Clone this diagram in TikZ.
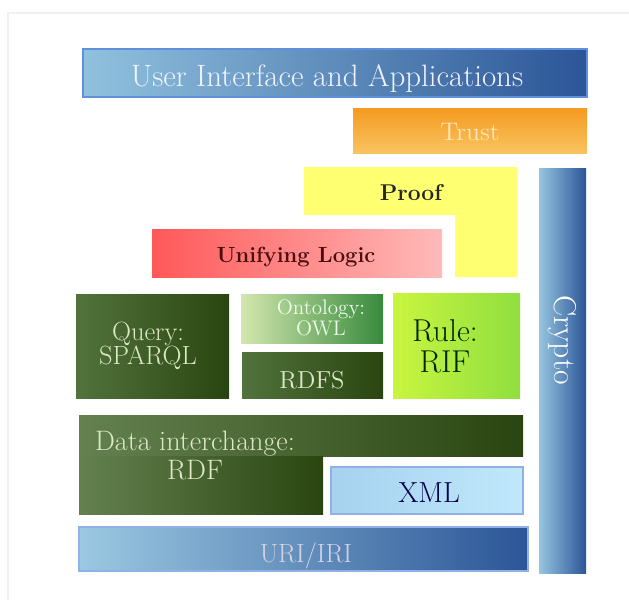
\documentclass[tikz,border=0pt]{standalone}
\usepackage{tikz}
\usepackage{fontspec}
\usepackage{xcolor}
\definecolor{uiL}{HTML}{90C2DE}
\definecolor{uiR}{HTML}{2B5597}
\definecolor{edgeblue}{HTML}{6090DC}
\definecolor{trustT}{HTML}{F49A20}
\definecolor{trustB}{HTML}{F9C460}
\definecolor{trustTxt}{HTML}{FDE6B8}
\definecolor{proofY}{HTML}{FFFF72}
\definecolor{logicL}{HTML}{FF5858}
\definecolor{logicR}{HTML}{FFBABA}
\definecolor{logicTxt}{HTML}{4A0E0E}
\definecolor{darkgL}{HTML}{52733C}
\definecolor{darkgR}{HTML}{2A4510}
\definecolor{paleg}{HTML}{DCE8C6}
\definecolor{owlL}{HTML}{D2E7AE}
\definecolor{owlM}{HTML}{5FA050}
\definecolor{owlR}{HTML}{388A3C}
\definecolor{rifL}{HTML}{C9F53F}
\definecolor{rifR}{HTML}{8FDF3F}
\definecolor{xmlL}{HTML}{A6D2EF}
\definecolor{xmlM}{HTML}{8CC0EA}
\definecolor{xmlR}{HTML}{C0E8FB}
\begin{document}
\begin{tikzpicture}[x=0.02cm,y=-0.02cm,
    lbl/.style 2 args={inner sep=0pt,align=center,font=\fontsize{#1}{#2}\selectfont},
    rim/.style={draw=edgeblue,line width=0.6pt}]
  \useasboundingbox (0,0) rectangle (629,600);
  \draw[black!6,line width=0.8pt] (8,600) -- (8,13) -- (629,13);
  % top layers
  \shade[rim,left color=uiL,right color=uiR] (83,49) rectangle (587,97);
  \node[lbl={17.6}{19},text=blue!5,anchor=base] (ui) at (327,86.5) {User Interface and Applications};
  \shade[top color=trustT,bottom color=trustB] (353,108) rectangle (587,153);
  \node[lbl={14.5}{16},text=trustTxt,anchor=base] (trust) at (470,140) {Trust};
  \fill[proofY] (304,167) -- (517,167) -- (517,277) -- (455,277) -- (455,215) -- (304,215) -- cycle;
  \node[lbl={13}{15},text=black!85,anchor=base] (proof) at (411,200) {\bfseries Proof};
  \shade[left color=logicL,right color=logicR] (152,229) rectangle (442,277);
  \node[lbl={12.5}{14},text=logicTxt,anchor=base] (logic) at (296,262) {\bfseries Unifying Logic};
  % middle layers
  \shade[left color=darkgL,right color=darkgR] (76,294) rectangle (229,398);
  \node[lbl={15}{13.7},text=paleg] (query) at (148,346) {Query:\\SPARQL};
  \shade[left color=owlL,middle color=owlM,right color=owlR] (241,294) rectangle (383,343);
  \node[lbl={12}{8.5},text=white!92!green] (owl) at (321,317.5) {Ontology:\\OWL};
  \shade[left color=darkgL,right color=darkgR] (242,352) rectangle (383,398);
  \node[lbl={14}{16},text=paleg,anchor=base] (rdfs) at (312,388) {RDFS};
  \shade[left color=rifL,right color=rifR] (393,293) rectangle (520,398);
  \node[lbl={18}{17.5},text=black!85!green] (rif) at (445,346) {Rule:\\RIF};
  \shade[left color=uiL!95!white,right color=uiR] (539,168) rectangle (586,573);
  \node[lbl={18}{20},text=white,rotate=-90] (crypto) at (562,340) {Crypto};
  % bottom layers
  \shade[left color=darkgL!90!white,right color=darkgR] (79,415) rectangle (523,456);
  \shade[left color=darkgL!90!white,right color=darkgR] (79,456) rectangle (323,514);
  \node[lbl={16}{16.5},text=paleg] (rdf) at (195,455) {Data interchange:\\RDF};
  \shade[rim,draw=edgeblue!70,left color=xmlL,middle color=xmlM,right color=xmlR] (331,467) rectangle (523,514);
  \node[lbl={16.5}{18},text=blue!30!black,anchor=base] (xml) at (429,502) {XML};
  \shade[rim,draw=edgeblue!70,left color=uiL!90!white,right color=uiR] (79,527) rectangle (528,571);
  \node[lbl={15}{17},text=blue!8!white!90!black,anchor=base] (uri) at (306,562) {URI/IRI};
\end{tikzpicture}
\end{document}
